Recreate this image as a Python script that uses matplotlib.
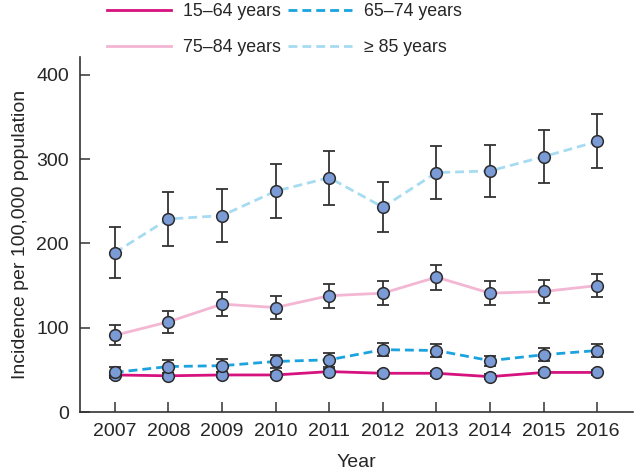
import matplotlib
matplotlib.use("Agg")
import matplotlib.pyplot as plt

# data
years = [2007, 2008, 2009, 2010, 2011, 2012, 2013, 2014, 2015, 2016]
age_15_64 = [44, 43, 44, 44, 48, 46, 46, 42, 47, 47]
err_15_64 = [3, 3, 3, 3, 3, 3, 3, 3, 3, 3]
age_65_74 = [47, 54, 55, 60, 62, 74, 73, 61, 68, 73]
err_65_74 = [7, 8, 8, 8, 8, 8, 8, 6, 8, 8]
age_75_84 = [91, 107, 128, 124, 138, 141, 160, 141, 143, 150]
err_75_84 = [12, 13, 14, 14, 14, 14, 15, 14, 14, 14]
age_85 = [189, 229, 233, 262, 278, 243, 284, 286, 303, 321]
err_85 = [30, 32, 31, 32, 32, 30, 31, 31, 31, 32]
labels = ["15\u201364 years", "65\u201374 years", "75\u201384 years", "\u2265 85 years"]

plt.rcParams["font.family"] = ["Liberation Sans", "DejaVu Sans"]

fig = plt.figure(figsize=(6.34, 4.72), dpi=100)
ax = fig.add_axes([0.126, 0.127, 0.872, 0.752])

series = [
    (age_15_64, err_15_64, "#d6127f", "-"),
    (age_65_74, err_65_74, "#1aa3df", (0, (3.2, 1.8))),
    (age_75_84, err_75_84, "#f3b6d3", "-"),
    (age_85, err_85, "#a6dbf1", (0, (3.2, 1.8))),
]

handles = []
for vals, errs, col, ls in series:
    h, = ax.plot(years, vals, color=col, linestyle=ls, lw=2, zorder=2)
    handles.append(h)
for vals, errs, col, ls in series:
    ax.errorbar(years, vals, yerr=errs, fmt="none", ecolor="#333333",
                elinewidth=1.3, capsize=4.2, capthick=1.3, zorder=3)
for vals, errs, col, ls in series:
    ax.plot(years, vals, "o", ms=8.4, mfc="#7b9bd7", mec="#2b2b2b", mew=1.1,
            zorder=4)

ax.set_xlim(2006.35, 2016.66)
ax.set_ylim(0, 421)
ax.set_xticks(years)
ax.set_yticks([0, 100, 200, 300, 400])
ax.tick_params(direction="in", length=7, width=1.1, color="#333333",
               labelsize=14, labelcolor="#262626", pad=8)
ax.spines["top"].set_visible(False)
ax.spines["right"].set_visible(False)
for s in ["left", "bottom"]:
    ax.spines[s].set_linewidth(1.2)
    ax.spines[s].set_color("#333333")
ax.set_xlabel("Year", fontsize=14, color="#262626", labelpad=10)
ax.set_ylabel("Incidence per 100,000 population", fontsize=14,
              color="#262626", labelpad=5)

# legend: two rows above the plot
order = [0, 2, 1, 3]
fig.legend([handles[i] for i in order], [labels[i] for i in order],
           ncol=2, loc="upper left", bbox_to_anchor=(107 / 634, 0.993),
           frameon=False, fontsize=12.8, handlelength=3.6, handletextpad=0.7,
           columnspacing=0.35, labelspacing=1.05, borderpad=0, borderaxespad=0,
           labelcolor="#262626")

fig.savefig("out.png", dpi=100)
